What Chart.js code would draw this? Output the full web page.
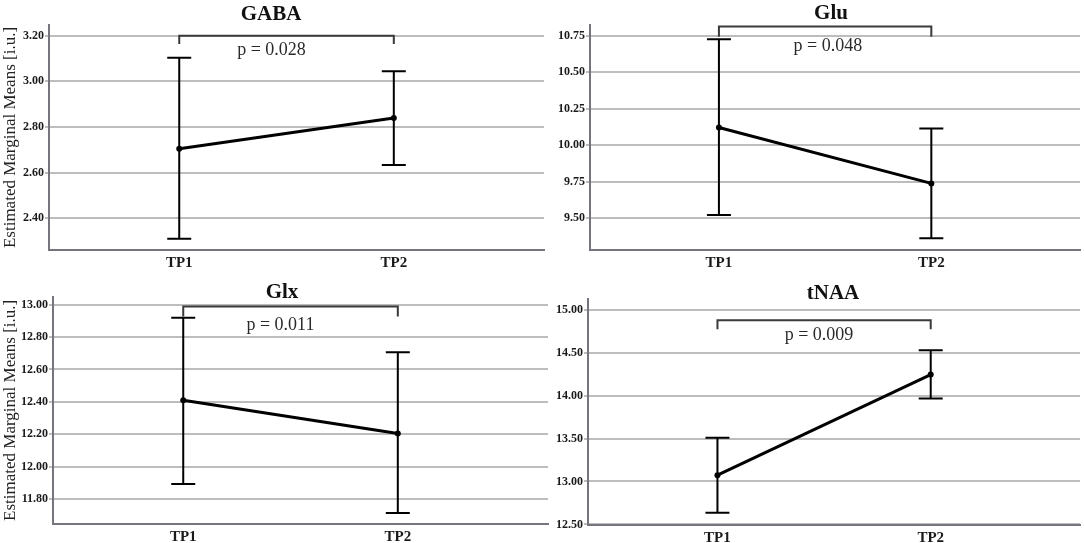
<!DOCTYPE html>
<html lang="en">
<head>
<meta charset="UTF-8">
<title>Estimated Marginal Means</title>
<script src="https://cdn.jsdelivr.net/npm/chart.js"></script>
<style>
    body {
        margin: 0;
        background: #fff;
    }
    #wrap {
        position: relative;
        width: 1084px;
        height: 543px;
        overflow: hidden;
        background: #fff;
    }
    #wrap canvas {
        position: absolute;
    }
</style>
</head>
<body>
<div id="wrap">
    <canvas id="gaba" width="548" height="272" style="left:0;top:0"></canvas>
    <canvas id="glu" width="544" height="272" style="left:540px;top:0"></canvas>
    <canvas id="glx" width="552" height="271" style="left:0;top:272px"></canvas>
    <canvas id="tnaa" width="544" height="271" style="left:540px;top:272px"></canvas>
</div>
<script>
    // data
    const timepoints = ["TP1", "TP2"];

    const gabaMeans = [2.705, 2.839];
    const gabaLower = [2.310, 2.634];
    const gabaUpper = [3.104, 3.044];
    const gabaTicks = [2.40, 2.60, 2.80, 3.00, 3.20];

    const gluMeans = [10.121, 9.739];
    const gluLower = [9.523, 9.363];
    const gluUpper = [10.725, 10.114];
    const gluTicks = [9.50, 9.75, 10.00, 10.25, 10.50, 10.75];

    const glxMeans = [12.410, 12.204];
    const glxLower = [11.893, 11.713];
    const glxUpper = [12.919, 12.707];
    const glxTicks = [11.80, 12.00, 12.20, 12.40, 12.60, 12.80, 13.00];

    const tnaaMeans = [13.074, 14.245];
    const tnaaLower = [12.635, 13.965];
    const tnaaUpper = [13.508, 14.527];
    const tnaaTicks = [12.50, 13.00, 13.50, 14.00, 14.50, 15.00];

    const pLabels = ["p = 0.028", "p = 0.048", "p = 0.011", "p = 0.009"];

    const serif = '"Liberation Serif", "Times New Roman", serif';
    const axisColor = "#77737f";
    const gridColor = "#bdbdbd";

    // vertical error bars with caps
    const errorBars = {
        id: "errorBars",
        afterDatasetsDraw(chart, args, opts) {
            const { ctx, scales: { x, y } } = chart;
            ctx.save();
            ctx.strokeStyle = "#000";
            ctx.lineWidth = 2;
            opts.lower.forEach((lo, i) => {
                const px = x.getPixelForValue(i + 1);
                const yLo = y.getPixelForValue(lo);
                const yHi = y.getPixelForValue(opts.upper[i]);
                ctx.beginPath();
                ctx.moveTo(px, yLo);
                ctx.lineTo(px, yHi);
                ctx.moveTo(px - 12, yLo);
                ctx.lineTo(px + 12, yLo);
                ctx.moveTo(px - 12, yHi);
                ctx.lineTo(px + 12, yHi);
                ctx.stroke();
            });
            ctx.restore();
        }
    };

    // significance bracket + p value
    const bracket = {
        id: "bracket",
        afterDatasetsDraw(chart, args, opts) {
            const { ctx, scales: { x, y } } = chart;
            const x1 = x.getPixelForValue(1);
            const x2 = x.getPixelForValue(2);
            const yt = y.getPixelForValue(opts.top);
            const yd = y.getPixelForValue(opts.drop);
            ctx.save();
            ctx.strokeStyle = "#3a3a3a";
            ctx.lineWidth = 2;
            ctx.beginPath();
            ctx.moveTo(x1, yd);
            ctx.lineTo(x1, yt);
            ctx.lineTo(x2, yt);
            ctx.lineTo(x2, yd);
            ctx.stroke();
            ctx.fillStyle = "#2a2a2a";
            ctx.font = "18px " + serif;
            ctx.textAlign = "center";
            ctx.textBaseline = "middle";
            ctx.fillText(opts.label, x.getPixelForValue(opts.labelX), y.getPixelForValue(opts.labelY));
            ctx.restore();
        }
    };

    const panelTitle = {
        id: "panelTitle",
        afterDraw(chart, args, opts) {
            const ctx = chart.ctx;
            ctx.save();
            ctx.fillStyle = "#111";
            ctx.font = "bold 21px " + serif;
            ctx.textAlign = "center";
            ctx.textBaseline = "alphabetic";
            ctx.fillText(opts.text, opts.x, opts.y);
            ctx.restore();
        }
    };

    function makePanel(id, p) {
        return new Chart(document.getElementById(id), {
            type: "line",
            data: {
                datasets: [{
                    data: p.means.map((m, i) => ({ x: i + 1, y: m })),
                    borderColor: "#000",
                    borderWidth: 3,
                    pointRadius: 3,
                    pointBackgroundColor: "#000",
                    pointBorderWidth: 0,
                    tension: 0
                }]
            },
            options: {
                responsive: false,
                animation: false,
                layout: { padding: { top: p.top, right: 3, bottom: 0, left: 0 } },
                plugins: {
                    legend: { display: false },
                    tooltip: { enabled: false },
                    errorBars: { lower: p.lower, upper: p.upper },
                    bracket: p.bracket,
                    panelTitle: p.title
                },
                scales: {
                    x: {
                        type: "linear",
                        min: 0.393,
                        max: 2.70,
                        afterBuildTicks: s => { s.ticks = timepoints.map((_, i) => ({ value: i + 1 })); },
                        afterFit: s => { s.height = p.xHeight; },
                        grid: { color: "transparent", drawTicks: false },
                        border: { color: axisColor, width: 2 },
                        ticks: {
                            padding: 4,
                            color: "#1a1a1a",
                            font: { family: serif, size: 15, weight: "bold" },
                            callback: v => timepoints[v - 1]
                        }
                    },
                    y: {
                        min: p.yMin,
                        max: p.yMax,
                        afterBuildTicks: s => { s.ticks = p.ticks.map(v => ({ value: v })); },
                        afterFit: s => { s.width = p.yWidth; },
                        grid: { color: gridColor, lineWidth: 2, tickLength: 4 },
                        border: { color: axisColor, width: 2 },
                        ticks: {
                            padding: 1,
                            color: "#1a1a1a",
                            font: { family: serif, size: 12, weight: "bold" },
                            callback: v => v.toFixed(2)
                        },
                        title: {
                            display: p.yTitle,
                            text: "Estimated Marginal Means [i.u.]",
                            color: "#222",
                            padding: 0,
                            font: { family: serif, size: 17 }
                        }
                    }
                }
            },
            plugins: [errorBars, bracket, panelTitle]
        });
    }

    makePanel("gaba", {
        means: gabaMeans, lower: gabaLower, upper: gabaUpper, ticks: gabaTicks,
        yMin: 2.261, yMax: 3.247, top: 25, xHeight: 22, yWidth: 49, yTitle: true,
        title: { text: "GABA", x: 271, y: 20 },
        bracket: { top: 3.20, drop: 3.164, label: pLabels[0], labelX: 1.43, labelY: 3.137 }
    });

    makePanel("glu", {
        means: gluMeans, lower: gluLower, upper: gluUpper, ticks: gluTicks,
        yMin: 9.283, yMax: 10.823, top: 25, xHeight: 22, yWidth: 50, yTitle: false,
        title: { text: "Glu", x: 291, y: 18.5 },
        bracket: { top: 10.812, drop: 10.743, label: pLabels[1], labelX: 1.513, labelY: 10.675 }
    });

    makePanel("glx", {
        means: glxMeans, lower: glxLower, upper: glxUpper, ticks: glxTicks,
        yMin: 11.647, yMax: 13.048, top: 25, xHeight: 19.3, yWidth: 53, yTitle: true,
        title: { text: "Glx", x: 282, y: 26 },
        bracket: { top: 12.99, drop: 12.928, label: pLabels[2], labelX: 1.453, labelY: 12.872 }
    });

    makePanel("tnaa", {
        means: tnaaMeans, lower: tnaaLower, upper: tnaaUpper, ticks: tnaaTicks,
        yMin: 12.49, yMax: 15.128, top: 26.7, xHeight: 17.7, yWidth: 48, yTitle: false,
        title: { text: "tNAA", x: 293, y: 26.5 },
        bracket: { top: 14.876, drop: 14.771, label: pLabels[3], labelX: 1.476, labelY: 14.70 }
    });
</script>
</body>
</html>
